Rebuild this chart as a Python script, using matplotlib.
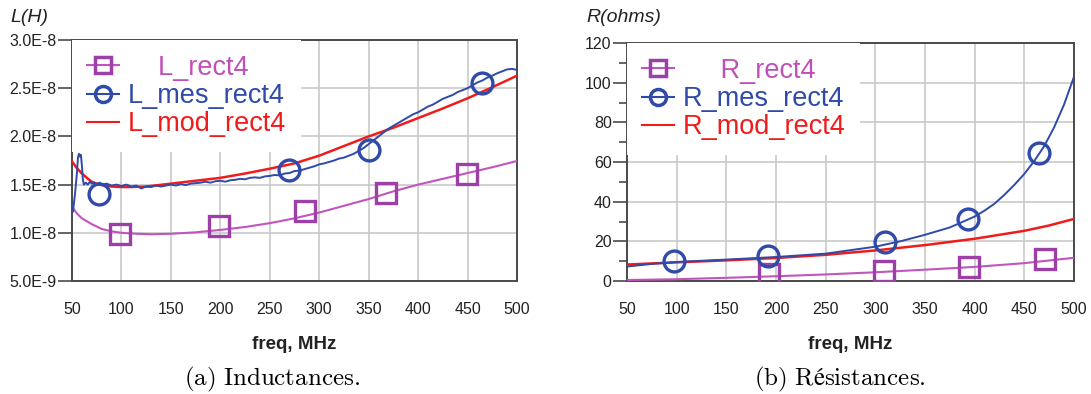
import matplotlib
matplotlib.use("Agg")
import matplotlib.pyplot as plt
from matplotlib.lines import Line2D
from matplotlib.ticker import MultipleLocator

plt.rcParams['font.family'] = ['Liberation Sans', 'DejaVu Sans']
plt.rcParams['mathtext.fontset'] = 'cm'

# ---- data: inductance (values in 1e-8 H) ----
L_mod_f = [50, 55, 60, 65, 70, 75, 80, 90, 100, 110, 125, 150, 175, 200, 225,
           250, 275, 300, 325, 350, 375, 400, 425, 450, 475, 500]
L_mod_v = [1.74, 1.67, 1.615, 1.57, 1.53, 1.51, 1.495, 1.48, 1.475, 1.475, 1.48,
           1.51, 1.54, 1.57, 1.615, 1.665, 1.72, 1.80, 1.90, 2.00, 2.09, 2.19,
           2.29, 2.395, 2.51, 2.63]

L_mes_f = [50, 51, 53, 55, 56, 57, 58, 59, 60, 61, 62, 64, 66, 68, 70, 72, 75,
           78, 80, 85, 90, 95, 100, 105, 110, 115, 120, 125, 130, 135, 140, 145,
           150, 155, 160, 165, 170, 175, 180, 185, 190, 195, 200, 205, 210, 215,
           220, 225, 230, 235, 240, 245, 250, 255, 260, 265, 270, 275, 280, 285,
           290, 295, 300, 305, 310, 315, 320, 325, 330, 335, 340, 345, 350, 355,
           360, 365, 370, 375, 380, 385, 390, 395, 400, 405, 410, 415, 420, 425,
           430, 435, 440, 445, 450, 455, 460, 465, 470, 475, 480, 485, 490, 495, 500]
L_mes_v = [1.30, 1.22, 1.40, 1.62, 1.78, 1.82, 1.79, 1.81, 1.70, 1.55, 1.50, 1.52,
           1.50, 1.53, 1.51, 1.52, 1.50, 1.52, 1.50, 1.51, 1.49, 1.50, 1.485, 1.50,
           1.48, 1.49, 1.46, 1.48, 1.475, 1.49, 1.48, 1.49, 1.50, 1.49, 1.505,
           1.495, 1.51, 1.515, 1.52, 1.53, 1.52, 1.535, 1.54, 1.53, 1.545, 1.55,
           1.56, 1.555, 1.57, 1.575, 1.57, 1.585, 1.59, 1.60, 1.595, 1.615, 1.62,
           1.64, 1.645, 1.66, 1.675, 1.69, 1.71, 1.72, 1.735, 1.75, 1.77, 1.78,
           1.80, 1.82, 1.85, 1.88, 1.92, 1.96, 2.00, 2.04, 2.08, 2.11, 2.14, 2.17,
           2.20, 2.23, 2.25, 2.28, 2.31, 2.33, 2.36, 2.39, 2.41, 2.43, 2.46, 2.48,
           2.50, 2.53, 2.56, 2.58, 2.61, 2.63, 2.655, 2.675, 2.695, 2.70, 2.69]

L_rect_f = [50, 55, 60, 70, 80, 90, 100, 115, 130, 150, 175, 200, 225, 250, 275,
            300, 325, 350, 375, 400, 425, 450, 475, 500]
L_rect_v = [1.27, 1.20, 1.15, 1.09, 1.04, 1.015, 1.0, 0.99, 0.985, 0.99, 1.005,
            1.03, 1.06, 1.10, 1.15, 1.21, 1.28, 1.35, 1.43, 1.50, 1.56, 1.62,
            1.68, 1.745]

L_rect_mk_f = [99, 199, 286, 368, 449]
L_rect_mk_v = [0.985, 1.07, 1.225, 1.415, 1.61]
L_mes_mk_f = [77, 269, 350, 465]
L_mes_mk_v = [1.405, 1.65, 1.86, 2.555]

L_ticks = [0.5, 1.0, 1.5, 2.0, 2.5, 3.0]
L_ticklabels = ['5.0E-9', '1.0E-8', '1.5E-8', '2.0E-8', '2.5E-8', '3.0E-8']

# ---- data: resistance (ohms) ----
R_mod_f = [50, 100, 150, 200, 250, 300, 350, 400, 450, 475, 500]
R_mod_v = [8.3, 9.4, 10.4, 11.6, 13.2, 15.4, 18.1, 21.3, 25.3, 28.0, 31.3]

R_mes_f = [50, 75, 100, 150, 200, 250, 300, 325, 350, 375, 400, 410, 420, 430,
           440, 450, 460, 470, 480, 490, 500]
R_mes_v = [7.3, 8.6, 9.6, 10.8, 12.1, 13.8, 17.3, 20.0, 23.3, 27.0, 32.5, 35.5,
           39.0, 43.5, 48.5, 54.0, 60.5, 68.0, 77.5, 89.0, 103.0]

R_rect_f = [50, 100, 150, 200, 250, 300, 350, 400, 450, 500]
R_rect_v = [0.5, 0.9, 1.6, 2.4, 3.3, 4.4, 5.7, 7.1, 9.0, 11.7]

R_rect_mk_f = [193, 309, 394, 471]
R_rect_mk_v = [3.7, 5.0, 7.2, 11.2]
R_mes_mk_f = [97, 192, 310, 393, 465]
R_mes_mk_v = [10.3, 12.5, 19.7, 31.3, 64.5]

freq_ticks = [50, 100, 150, 200, 250, 300, 350, 400, 450, 500]

MAG_LINE = '#c255bd'
MAG_MK = '#9c3fa6'
BLUE = '#2f4aa8'
RED = '#f01c1c'
GRID = '#c9c9c9'
SPINE = '#4a4a4a'

fig = plt.figure(figsize=(10.91, 3.94), dpi=100)
W, H = 1091, 394
axL = fig.add_axes([72 / W, 1 - 281 / H, 445 / W, 241 / H])
axR = fig.add_axes([627 / W, 1 - 281 / H, 447 / W, 238 / H])


def style(ax):
    ax.set_xlim(50, 500)
    ax.set_xticks(freq_ticks)
    ax.grid(True, which='major', color=GRID, lw=1.2)
    ax.set_axisbelow(True)
    for s in ax.spines.values():
        s.set_color(SPINE)
        s.set_linewidth(1.4)
    ax.tick_params(axis='x', length=0, pad=15, labelsize=11.5, labelcolor='#222222')
    ax.tick_params(axis='y', which='major', length=10, width=1.2, color=SPINE,
                   pad=1, labelsize=11.5, labelcolor='#222222')
    ax.set_xlabel('freq, MHz', fontsize=13.5, fontweight='bold', color='#222222')
    ax.xaxis.set_label_coords(0.5, -0.265)
    ax.xaxis.label.set_va('center')


def legend(ax, labels, x0):
    handles = [
        Line2D([], [], color=MAG_LINE, lw=1.5, marker='s', ms=11.5, mfc='none',
               mec=MAG_MK, mew=2.5),
        Line2D([], [], color=BLUE, lw=1.5, marker='o', ms=11.5, mfc='none',
               mec=BLUE, mew=2.5),
        Line2D([], [], color=RED, lw=1.5),
    ]
    leg = ax.legend(handles, labels, loc='upper left', bbox_to_anchor=(x0, 1.0),
                    borderaxespad=0.0, borderpad=0.55, frameon=True,
                    fancybox=False, edgecolor='none', facecolor='white',
                    framealpha=1.0, fontsize=19.5, handlelength=1.2,
                    handletextpad=0.3, labelspacing=0.08)
    for t, c in zip(leg.get_texts(), ['#c050b8', BLUE, RED]):
        t.set_color(c)
    return leg


# ---- left: inductances ----
style(axL)
axL.set_ylim(0.5, 3.0)
axL.set_yticks(L_ticks)
axL.set_yticklabels(L_ticklabels)
axL.plot(L_mod_f, L_mod_v, color=RED, lw=1.8, zorder=3)
axL.plot(L_mes_f, L_mes_v, color=BLUE, lw=1.4, zorder=4)
axL.plot(L_rect_f, L_rect_v, color=MAG_LINE, lw=1.5, zorder=3)
axL.plot(L_rect_mk_f, L_rect_mk_v, ls='none', marker='s', ms=14.5, mfc='none',
         mec=MAG_MK, mew=2.4, zorder=5)
axL.plot(L_mes_mk_f, L_mes_mk_v, ls='none', marker='o', ms=15, mfc='none',
         mec=BLUE, mew=2.4, zorder=5)
legend(axL, ['    L_rect4', 'L_mes_rect4', 'L_mod_rect4'], 0.0)
fig.text(10 / W, 1 - 17 / H, 'L(H)', fontsize=14, style='italic',
         ha='left', va='center', color='#222222')

# ---- right: resistances ----
style(axR)
axR.set_ylim(0, 120)
axR.yaxis.set_major_locator(MultipleLocator(20))
axR.yaxis.set_minor_locator(MultipleLocator(10))
axR.tick_params(axis='y', which='minor', length=6, width=1.2, color=SPINE)
axR.tick_params(axis='x', which='minor', length=0)
axR.plot(R_mod_f, R_mod_v, color=RED, lw=1.8, zorder=3)
axR.plot(R_mes_f, R_mes_v, color=BLUE, lw=1.4, zorder=4)
axR.plot(R_rect_f, R_rect_v, color=MAG_LINE, lw=1.5, zorder=3)
axR.plot(R_rect_mk_f, R_rect_mk_v, ls='none', marker='s', ms=14.5, mfc='none',
         mec=MAG_MK, mew=2.4, zorder=5)
axR.plot(R_mes_mk_f, R_mes_mk_v, ls='none', marker='o', ms=15, mfc='none',
         mec=BLUE, mew=2.4, zorder=5)
legend(axR, ['     R_rect4', 'R_mes_rect4', 'R_mod_rect4'], 0.0)
fig.text(586 / W, 1 - 17 / H, 'R(ohms)', fontsize=14, style='italic',
         ha='left', va='center', color='#222222')

# ---- captions ----
fig.text(272 / W, 1 - 385 / H, r'$\mathrm{(a)\ Inductances.}$', fontsize=18,
         ha='center', va='baseline')
fig.text(840 / W, 1 - 385 / H, r'$\mathrm{(b)\ Résistances.}$', fontsize=18,
         ha='center', va='baseline')

fig.savefig('out.png', dpi=100, facecolor='white')
